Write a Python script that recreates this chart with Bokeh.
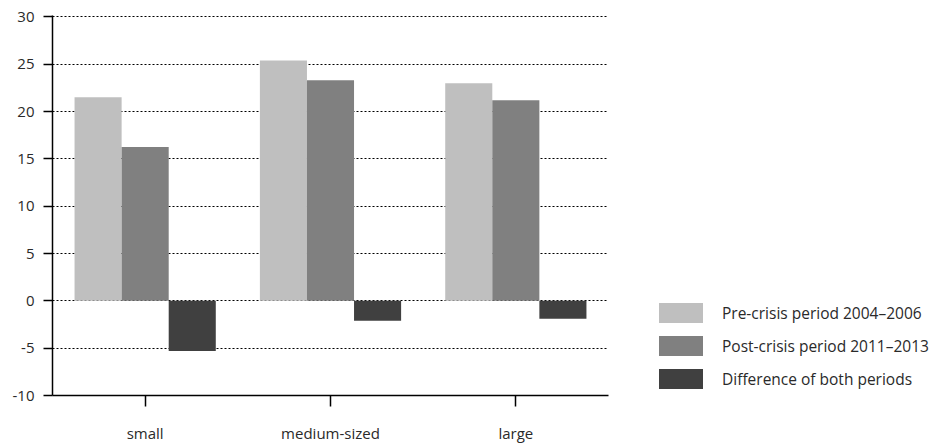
from bokeh.plotting import figure
from bokeh.models import ColumnDataSource, FactorRange, Range1d, Legend, LegendItem
from bokeh.transform import dodge
from bokeh.embed import file_html
from bokeh.resources import INLINE

categories = ["small", "medium-sized", "large"]
pre_crisis = [21.5, 25.4, 23.0]
post_crisis = [16.25, 23.3, 21.2]
difference = [-5.3, -2.1, -1.9]
series_labels = ["Pre-crisis period 2004\u20132006", "Post-crisis period 2011\u20132013", "Difference of both periods"]
colors = ["#bfbfbf", "#808080", "#404040"]
y_ticks = [-10, -5, 0, 5, 10, 15, 20, 25, 30]

FONT = "Open Sans"
TXT = "#2a2a2a"

src = ColumnDataSource(dict(cat=categories, pre=pre_crisis, post=post_crisis, diff=difference))

p = figure(x_range=FactorRange(*categories, range_padding=0), y_range=Range1d(-10, 30.15),
           frame_width=556, frame_height=380, output_backend="svg", toolbar_location=None,
           min_border_left=52, min_border_top=15, min_border_bottom=51, min_border_right=0)
p.outline_line_color = None

w = 0.254
r1 = p.vbar(x=dodge("cat", -w, range=p.x_range), top="pre", bottom=0, width=w, source=src,
            fill_color=colors[0], line_color=None)
r2 = p.vbar(x=dodge("cat", 0, range=p.x_range), top="post", bottom=0, width=w, source=src,
            fill_color=colors[1], line_color=None)
r3 = p.vbar(x=dodge("cat", w, range=p.x_range), top="diff", bottom=0, width=w, source=src,
            fill_color=colors[2], line_color=None)

p.xgrid.grid_line_color = None
p.ygrid.grid_line_color = "black"
p.ygrid.grid_line_dash = "2 2"
p.ygrid.grid_line_width = 1.2
p.ygrid.level = "underlay"

p.yaxis.ticker = y_ticks
p.yaxis.major_label_overrides = {t: str(t) for t in y_ticks}
p.yaxis.minor_tick_line_color = None
p.yaxis.major_tick_out = 9
p.yaxis.major_tick_in = 0
p.yaxis.axis_line_width = 1.5
p.yaxis.major_tick_line_width = 1.5
p.yaxis.major_label_standoff = 9
p.xaxis.major_tick_out = 11
p.xaxis.major_tick_in = 0
p.xaxis.axis_line_width = 1.5
p.xaxis.major_tick_line_width = 1.5
p.xaxis.major_label_standoff = 16
for ax in (p.xaxis, p.yaxis):
    ax.axis_line_color = "black"
    ax.major_tick_line_color = "black"
    ax.major_label_text_font = FONT
    ax.major_label_text_font_size = "15px"
    ax.major_label_text_color = TXT

legend = Legend(items=[LegendItem(label=series_labels[0], renderers=[r1]),
                       LegendItem(label=series_labels[1], renderers=[r2]),
                       LegendItem(label=series_labels[2], renderers=[r3])],
                location=(45, 4), orientation="vertical")
legend.glyph_width = 55
legend.glyph_height = 25
legend.label_height = 25
legend.spacing = 8
legend.padding = 0
legend.margin = 0
legend.label_standoff = 14
legend.border_line_color = None
legend.background_fill_alpha = 0
legend.label_text_font = FONT
legend.label_text_font_size = "15.5px"
legend.label_text_color = TXT
legend.click_policy = "none"
p.add_layout(legend, "right")
p.min_border_right = 8

open("out.html", "w").write(file_html(p, INLINE))
